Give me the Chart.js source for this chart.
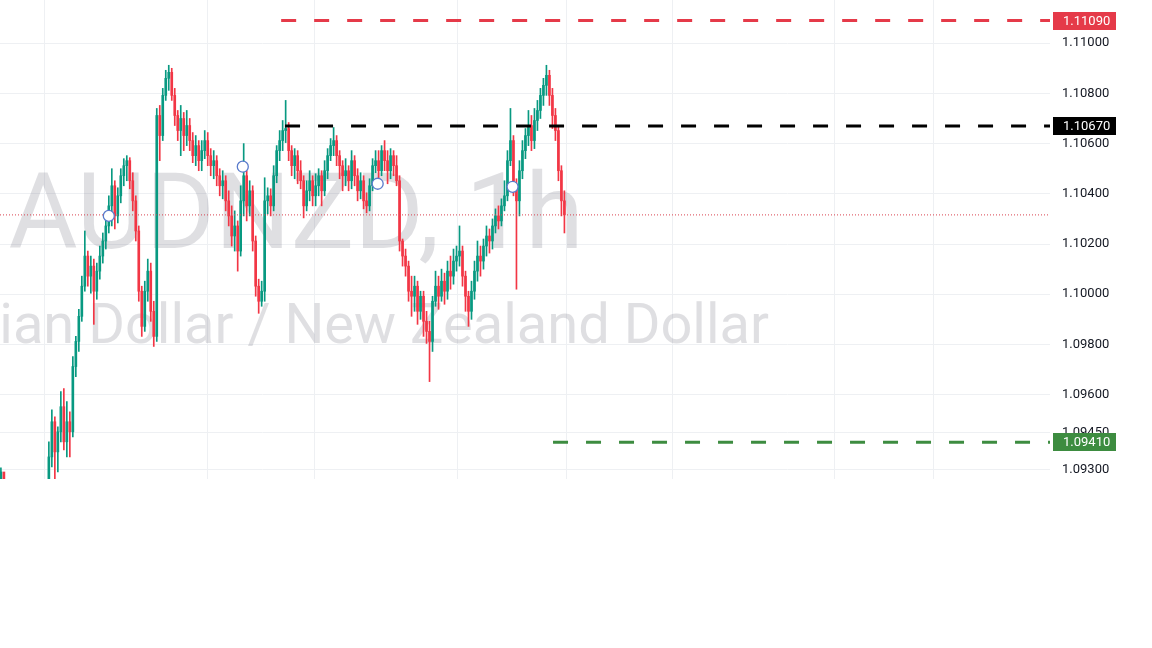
<!DOCTYPE html>
<html>
<head>
<meta charset="utf-8">
<script src="https://cdn.jsdelivr.net/npm/chart.js@4.4.1/dist/chart.umd.min.js"></script>
<style>
  html, body { margin: 0; padding: 0; background: #ffffff; }
  #wrap { position: relative; width: 1152px; height: 479px; }
</style>
</head>
<body>
<div id="wrap"><canvas id="c"></canvas></div>
<script>
// ---------- DATA (AUDNZD, 1h candles) ----------
const open = [
1.09260,1.09292,1.09192,1.09152,1.09180,1.09112,1.09072,1.09124,1.09092,1.09140,
1.09112,1.09164,1.09132,1.09180,1.09152,1.09204,1.09212,1.09352,1.09492,1.09372,
1.09452,1.09552,1.09412,1.09492,1.09452,1.09712,1.09812,1.09912,1.10032,1.10152,
1.10072,1.10112,1.10012,1.10092,1.10152,1.10212,1.10272,1.10352,1.10432,1.10312,
1.10392,1.10472,1.10512,1.10532,1.10452,1.10372,1.10252,1.10012,1.09872,1.10012,
1.10092,1.09932,1.09832,1.10712,1.10632,1.10792,1.10860,1.10884,1.10792,1.10712,
1.10652,1.10700,1.10632,1.10672,1.10612,1.10552,1.10592,1.10532,1.10572,1.10612,
1.10552,1.10512,1.10532,1.10472,1.10432,1.10452,1.10372,1.10312,1.10232,1.10272,
1.10172,1.10372,1.10472,1.10352,1.10412,1.10212,1.10032,1.09972,1.10012,1.10372,
1.10392,1.10352,1.10472,1.10572,1.10612,1.10652,1.10660,1.10572,1.10512,1.10552,
1.10492,1.10452,1.10352,1.10412,1.10452,1.10392,1.10432,1.10472,1.10412,1.10492,
1.10552,1.10592,1.10612,1.10552,1.10512,1.10472,1.10492,1.10452,1.10532,1.10472,
1.10412,1.10452,1.10372,1.10352,1.10432,1.10512,1.10532,1.10492,1.10572,1.10532,
1.10492,1.10552,1.10512,1.10452,1.10212,1.10152,1.10112,1.10012,1.09992,1.10032,
1.09932,1.09992,1.09892,1.09852,1.09812,1.09972,1.10032,1.09992,1.10052,1.10012,
1.10092,1.10072,1.10132,1.10152,1.10172,1.10072,1.09992,1.09932,1.10012,1.10092,
1.10152,1.10132,1.10192,1.10232,1.10212,1.10272,1.10312,1.10292,1.10352,1.10392,
1.10532,1.10612,1.10432,1.10372,1.10492,1.10572,1.10632,1.10672,1.10612,1.10692,
1.10732,1.10792,1.10832,1.10872,1.10792,1.10712,1.10652,1.10492,1.10372
];
const high = [
1.09308,1.09272,1.09220,1.09212,1.09204,1.09140,1.09152,1.09172,1.09180,1.09172,
1.09192,1.09204,1.09212,1.09220,1.09232,1.09244,1.09412,1.09540,1.09512,1.09472,
1.09612,1.09624,1.09572,1.09532,1.09752,1.09832,1.09940,1.10072,1.10252,1.10172,
1.10152,1.10140,1.10124,1.10192,1.10244,1.10312,1.10392,1.10500,1.10452,1.10424,
1.10500,1.10540,1.10552,1.10544,1.10484,1.10392,1.10272,1.10032,1.10052,1.10140,
1.10124,1.09972,1.10740,1.10752,1.10820,1.10892,1.10912,1.10900,1.10820,1.10732,
1.10752,1.10724,1.10732,1.10700,1.10644,1.10632,1.10612,1.10612,1.10652,1.10644,
1.10580,1.10572,1.10552,1.10500,1.10492,1.10472,1.10412,1.10352,1.10332,1.10292,
1.10432,1.10600,1.10492,1.10452,1.10432,1.10232,1.10060,1.10052,1.10464,1.10424,
1.10420,1.10512,1.10592,1.10652,1.10692,1.10772,1.10684,1.10592,1.10580,1.10572,
1.10532,1.10472,1.10452,1.10492,1.10472,1.10480,1.10500,1.10492,1.10532,1.10580,
1.10620,1.10664,1.10632,1.10572,1.10532,1.10540,1.10512,1.10572,1.10552,1.10500,
1.10484,1.10472,1.10404,1.10460,1.10540,1.10572,1.10572,1.10592,1.10612,1.10572,
1.10580,1.10572,1.10552,1.10472,1.10220,1.10180,1.10132,1.10072,1.10072,1.10052,
1.10012,1.10012,1.09932,1.09892,1.09992,1.10092,1.10072,1.10100,1.10084,1.10132,
1.10152,1.10180,1.10192,1.10272,1.10192,1.10092,1.10012,1.10052,1.10132,1.10212,
1.10192,1.10220,1.10272,1.10260,1.10300,1.10340,1.10352,1.10380,1.10452,1.10572,
1.10740,1.10632,1.10460,1.10532,1.10612,1.10660,1.10732,1.10712,1.10740,1.10772,
1.10820,1.10860,1.10912,1.10892,1.10820,1.10740,1.10672,1.10512,1.10412
];
const low = [
1.09232,1.09164,1.09124,1.09112,1.09084,1.09032,1.09044,1.09060,1.09068,1.09084,
1.09092,1.09100,1.09112,1.09124,1.09132,1.09172,1.09192,1.09312,1.09260,1.09292,
1.09412,1.09380,1.09352,1.09352,1.09432,1.09672,1.09772,1.09892,1.10012,1.10032,
1.10004,1.09880,1.09980,1.10060,1.10124,1.10180,1.10244,1.10272,1.10260,1.10284,
1.10364,1.10432,1.10452,1.10420,1.10332,1.10212,1.09972,1.09832,1.09852,1.09972,
1.09892,1.09792,1.09812,1.10532,1.10612,1.10772,1.10812,1.10772,1.10672,1.10612,
1.10552,1.10572,1.10592,1.10572,1.10524,1.10512,1.10492,1.10492,1.10540,1.10512,
1.10472,1.10460,1.10432,1.10392,1.10380,1.10332,1.10272,1.10192,1.10172,1.10092,
1.10152,1.10312,1.10292,1.10312,1.10172,1.09992,1.09924,1.09952,1.09972,1.10320,
1.10312,1.10332,1.10444,1.10532,1.10572,1.10604,1.10532,1.10472,1.10460,1.10440,
1.10420,1.10304,1.10332,1.10372,1.10352,1.10352,1.10392,1.10352,1.10392,1.10460,
1.10532,1.10552,1.10512,1.10460,1.10412,1.10432,1.10412,1.10420,1.10432,1.10372,
1.10380,1.10340,1.10324,1.10332,1.10412,1.10484,1.10452,1.10472,1.10492,1.10440,
1.10460,1.10472,1.10432,1.10172,1.10112,1.10072,1.09972,1.09912,1.09932,1.09880,
1.09900,1.09832,1.09804,1.09652,1.09772,1.09952,1.09940,1.09972,1.09960,1.09980,
1.10020,1.10040,1.10092,1.10112,1.10032,1.09932,1.09872,1.09900,1.09980,1.10052,
1.10072,1.10100,1.10152,1.10164,1.10180,1.10244,1.10260,1.10272,1.10332,1.10372,
1.10512,1.10392,1.10020,1.10312,1.10460,1.10540,1.10592,1.10572,1.10580,1.10652,
1.10700,1.10752,1.10792,1.10752,1.10660,1.10612,1.10452,1.10312,1.10244
];
const close = [
1.09292,1.09192,1.09152,1.09180,1.09112,1.09072,1.09124,1.09092,1.09140,1.09112,
1.09164,1.09132,1.09180,1.09152,1.09204,1.09212,1.09352,1.09492,1.09372,1.09452,
1.09552,1.09412,1.09492,1.09452,1.09712,1.09812,1.09912,1.10032,1.10152,1.10072,
1.10112,1.10012,1.10092,1.10152,1.10212,1.10272,1.10352,1.10432,1.10312,1.10392,
1.10472,1.10512,1.10532,1.10452,1.10372,1.10252,1.10012,1.09872,1.10012,1.10092,
1.09932,1.09832,1.10712,1.10632,1.10792,1.10860,1.10884,1.10792,1.10712,1.10652,
1.10700,1.10632,1.10672,1.10612,1.10552,1.10592,1.10532,1.10572,1.10612,1.10552,
1.10512,1.10532,1.10472,1.10432,1.10452,1.10372,1.10312,1.10232,1.10272,1.10172,
1.10372,1.10472,1.10352,1.10412,1.10212,1.10032,1.09972,1.10012,1.10372,1.10392,
1.10352,1.10472,1.10572,1.10612,1.10652,1.10660,1.10572,1.10512,1.10552,1.10492,
1.10452,1.10352,1.10412,1.10452,1.10392,1.10432,1.10472,1.10412,1.10492,1.10552,
1.10592,1.10612,1.10552,1.10512,1.10472,1.10492,1.10452,1.10532,1.10472,1.10412,
1.10452,1.10372,1.10352,1.10432,1.10512,1.10532,1.10492,1.10572,1.10532,1.10492,
1.10552,1.10512,1.10452,1.10212,1.10152,1.10112,1.10012,1.09992,1.10032,1.09932,
1.09992,1.09892,1.09852,1.09812,1.09972,1.10032,1.09992,1.10052,1.10012,1.10092,
1.10072,1.10132,1.10152,1.10172,1.10072,1.09992,1.09932,1.10012,1.10092,1.10152,
1.10132,1.10192,1.10232,1.10212,1.10272,1.10312,1.10292,1.10352,1.10392,1.10532,
1.10612,1.10432,1.10372,1.10492,1.10572,1.10632,1.10672,1.10612,1.10692,1.10732,
1.10792,1.10832,1.10872,1.10792,1.10712,1.10652,1.10492,1.10372,1.10316
];

// price axis ticks and range
const yTicks = [1.110, 1.108, 1.106, 1.104, 1.102, 1.100, 1.098, 1.096, 1.0945, 1.093];
const yMin = 1.09264;
const yMax = 1.11172;
// time axis (bar index) range and vertical grid marks (session boundaries)
const xMin = -0.3;
const xMax = 350;
const timeMarks = [14.7, 69, 104.7, 152.3, 188.7, 224, 278, 311];

// horizontal levels: price, start bar index, color
const levelPrices = [1.11090, 1.10670, 1.09410];
const levelStarts = [93.5, 94.8, 184.2];
const levelColors = ['#e53a49', '#000000', '#3d8c40'];
const lastPrice = 1.10316;

// event markers (bar index, price)
const eventX = [36, 80.7, 125.7, 170.7];
const eventY = [1.10312, 1.10508, 1.10440, 1.10428];

const watermarkTitle = 'AUDNZD, 1h';
const watermarkSubtitle = 'Australian Dollar / New Zealand Dollar';

// ---------- BUILD ----------
const UP = '#089981', DOWN = '#f23645';
const barIdx = open.map((_, i) => i);
const candleColor = i => (close[i] >= open[i] ? UP : DOWN);

const wickData = barIdx.map(i => ({ x: i, y: [low[i], high[i]] }));
const bodyData = barIdx.map(i => ({ x: i, y: [open[i], close[i]] }));

const datasets = [];
datasets.push({
  type: 'scatter',
  data: eventX.map((x, k) => ({ x, y: eventY[k] })),
  pointRadius: 5.5,
  pointBorderWidth: 1.3,
  pointBorderColor: '#5a7bcc',
  pointBackgroundColor: '#ffffff',
  order: 0
});
levelPrices.forEach((p, k) => {
  datasets.push({
    type: 'line',
    data: [{ x: levelStarts[k], y: p }, { x: xMax, y: p }],
    borderColor: levelColors[k],
    borderWidth: 3,
    borderDash: [15, 18],
    pointRadius: 0,
    fill: false,
    order: 1
  });
});
datasets.push({
  type: 'line',
  data: [{ x: xMin, y: lastPrice }, { x: xMax, y: lastPrice }],
  borderColor: '#d9434f',
  borderWidth: 1,
  borderDash: [1, 2],
  pointRadius: 0,
  fill: false,
  order: 2
});
datasets.push({
  type: 'bar',
  data: bodyData,
  backgroundColor: ctx => candleColor(ctx.dataIndex),
  barThickness: 2,
  grouped: false,
  minBarLength: 1,
  borderWidth: 0,
  order: 3
});
datasets.push({
  type: 'bar',
  data: wickData,
  backgroundColor: ctx => candleColor(ctx.dataIndex),
  barThickness: 1,
  grouped: false,
  borderWidth: 0,
  order: 4
});

const watermarkPlugin = {
  id: 'watermark',
  beforeDatasetsDraw(chart) {
    const { ctx, chartArea: a } = chart;
    ctx.save();
    ctx.beginPath();
    ctx.rect(a.left, a.top, a.right - a.left, a.bottom - a.top);
    ctx.clip();
    ctx.fillStyle = 'rgba(120,123,134,0.24)';
    ctx.textAlign = 'center';
    ctx.textBaseline = 'alphabetic';
    ctx.font = '106px Roboto';
    ctx.fillText(watermarkTitle, 296, 248);
    ctx.font = '56px Roboto';
    ctx.fillText(watermarkSubtitle, 296, 343);
    ctx.restore();
  }
};

const tagPlugin = {
  id: 'priceTags',
  afterDraw(chart) {
    const { ctx, chartArea: a } = chart;
    const ys = chart.scales.y;
    ctx.save();
    levelPrices.forEach((p, k) => {
      const y = Math.round(ys.getPixelForValue(p));
      ctx.fillStyle = levelColors[k];
      ctx.fillRect(a.right + 3, y - 9, 63, 18);
      ctx.fillStyle = '#ffffff';
      ctx.font = '13px Roboto';
      ctx.textAlign = 'left';
      ctx.textBaseline = 'middle';
      ctx.fillText(p.toFixed(5), a.right + 13, y + 1);
    });
    ctx.restore();
  }
};

new Chart(document.getElementById('c'), {
  type: 'bar',
  data: { datasets },
  options: {
    responsive: true,
    maintainAspectRatio: false,
    devicePixelRatio: 1,
    animation: false,
    events: [],
    layout: { padding: 0, autoPadding: false },
    plugins: { legend: { display: false }, tooltip: { enabled: false } },
    scales: {
      x: {
        type: 'linear',
        min: xMin,
        max: xMax,
        offset: false,
        grid: { color: '#eef0f3', drawTicks: false, offset: false },
        border: { display: false },
        ticks: { display: false },
        afterBuildTicks: s => { s.ticks = timeMarks.map(v => ({ value: v })); },
        afterFit: s => { s.height = 0; s.paddingLeft = 0; s.paddingRight = 0; }
      },
      y: {
        type: 'linear',
        position: 'right',
        min: yMin,
        max: yMax,
        grid: { color: '#eef0f3', drawTicks: false },
        border: { display: false },
        ticks: {
          autoSkip: false,
          padding: 12,
          color: '#131722',
          font: { family: 'Roboto', size: 13 },
          callback: v => Number(v).toFixed(5)
        },
        afterBuildTicks: s => { s.ticks = yTicks.map(v => ({ value: v })); },
        afterFit: s => { s.width = 102; s.paddingTop = 0; s.paddingBottom = 0; }
      }
    }
  },
  plugins: [watermarkPlugin, tagPlugin]
});
</script>
</body>
</html>
